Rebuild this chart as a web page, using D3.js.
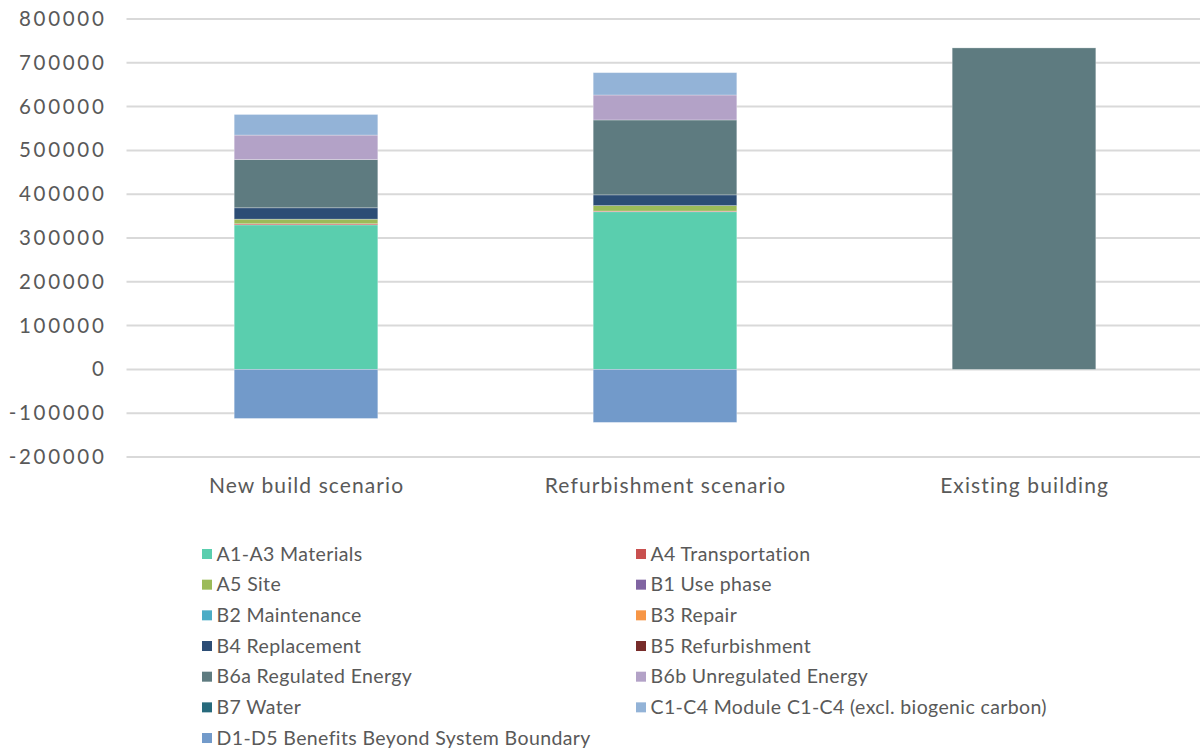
<!DOCTYPE html>
<html><head><meta charset="utf-8">
<script src="https://cdn.jsdelivr.net/npm/d3@7"></script>
<style>
html,body{margin:0;padding:0;background:#fff;}
svg text{font-family:"Lato","Open Sans",sans-serif;fill:#595959;}
</style></head>
<body><svg id="c" width="1200" height="752"></svg>
<script>
const categories = ["New build scenario", "Refurbishment scenario", "Existing building"];
const seriesNames = ["A1-A3 Materials","A4 Transportation","A5 Site","B1 Use phase","B2 Maintenance","B3 Repair","B4 Replacement","B5 Refurbishment","B6a Regulated Energy","B6b Unregulated Energy","B7 Water","C1-C4 Module C1-C4 (excl. biogenic carbon)","D1-D5 Benefits Beyond System Boundary"];
const seriesColors = ["#5ACEAE","#C9504F","#9BBB59","#8064A2","#4BACC6","#F79646","#2C4D75","#772C2A","#5E7B80","#B3A2C7","#276A7C","#93B3D7","#729ACA"];
const a1a3 = [330000, 360000, 0];
const a4 = [2500, 1500, 0];
const a5 = [10500, 12500, 0];
const b1 = [0, 0, 0];
const b2 = [0, 0, 0];
const b3 = [0, 0, 0];
const b4 = [26000, 24500, 0];
const b5 = [0, 0, 0];
const b6a = [110000, 171000, 734000];
const b6b = [56000, 57000, 0];
const b7 = [0, 0, 0];
const c1c4 = [47000, 51000, 0];
const d1d5 = [-112000, -121000, 0];
const yTicks = [-200000,-100000,0,100000,200000,300000,400000,500000,600000,700000,800000];

const seriesValues = [a1a3,a4,a5,b1,b2,b3,b4,b5,b6a,b6b,b7,c1c4,d1d5];
const table = categories.map((c,i)=>{
  const row = {cat:c};
  seriesNames.forEach((s,j)=>row[s]=seriesValues[j][i]);
  return row;
});

const svg = d3.select("#c");
const x = d3.scaleBand().domain(categories).range([126.5,1203.5]).paddingInner(0.6).paddingOuter(0.3);
const y = d3.scaleLinear().domain([-200000,800000]).range([457,19]);

// gridlines
svg.append("g").selectAll("line").data(yTicks).join("line")
  .attr("x1",126.5).attr("x2",1200)
  .attr("y1",d=>y(d)).attr("y2",d=>y(d))
  .attr("stroke","#d9d9d9").attr("stroke-width",2);

// y labels
svg.append("g").selectAll("text").data(yTicks).join("text")
  .attr("x",106.5).attr("y",d=>y(d)+7)
  .attr("text-anchor","end").attr("font-size",20.5)
  .attr("letter-spacing",2.7)
  .text(d=>String(d));

const stack = d3.stack().keys(seriesNames).offset(d3.stackOffsetDiverging);
const layers = stack(table);

svg.append("g").selectAll("g").data(layers).join("g")
  .attr("fill",(d,i)=>seriesColors[i])
  .selectAll("rect").data(d=>d).join("rect")
  .attr("x",d=>x(d.data.cat))
  .attr("width",x.bandwidth())
  .attr("y",d=>y(Math.max(d[0],d[1])))
  .attr("height",d=>Math.abs(y(d[0])-y(d[1])))
  .attr("stroke","#ffffff").attr("stroke-opacity",0.35).attr("stroke-width",0.8);

// x labels
svg.append("g").selectAll("text").data(categories).join("text")
  .attr("x",d=>x(d)+x.bandwidth()/2+0.6).attr("y",493)
  .attr("text-anchor","middle").attr("font-size",21)
  .attr("letter-spacing",1.1)
  .text(d=>d);

// legend
const leg = svg.append("g");
seriesNames.forEach((s,i)=>{
  const col = i%2, row = Math.floor(i/2);
  const lx = col===0 ? 202 : 636;
  const ly = 549 + row*30.67;
  leg.append("rect").attr("x",lx).attr("y",ly).attr("width",10).attr("height",10).attr("fill",seriesColors[i]);
  leg.append("text").attr("x",lx+14.5).attr("y",ly+11.5).attr("font-size",19.5)
    .attr("letter-spacing",0.38).text(s);
});
</script></body></html>
